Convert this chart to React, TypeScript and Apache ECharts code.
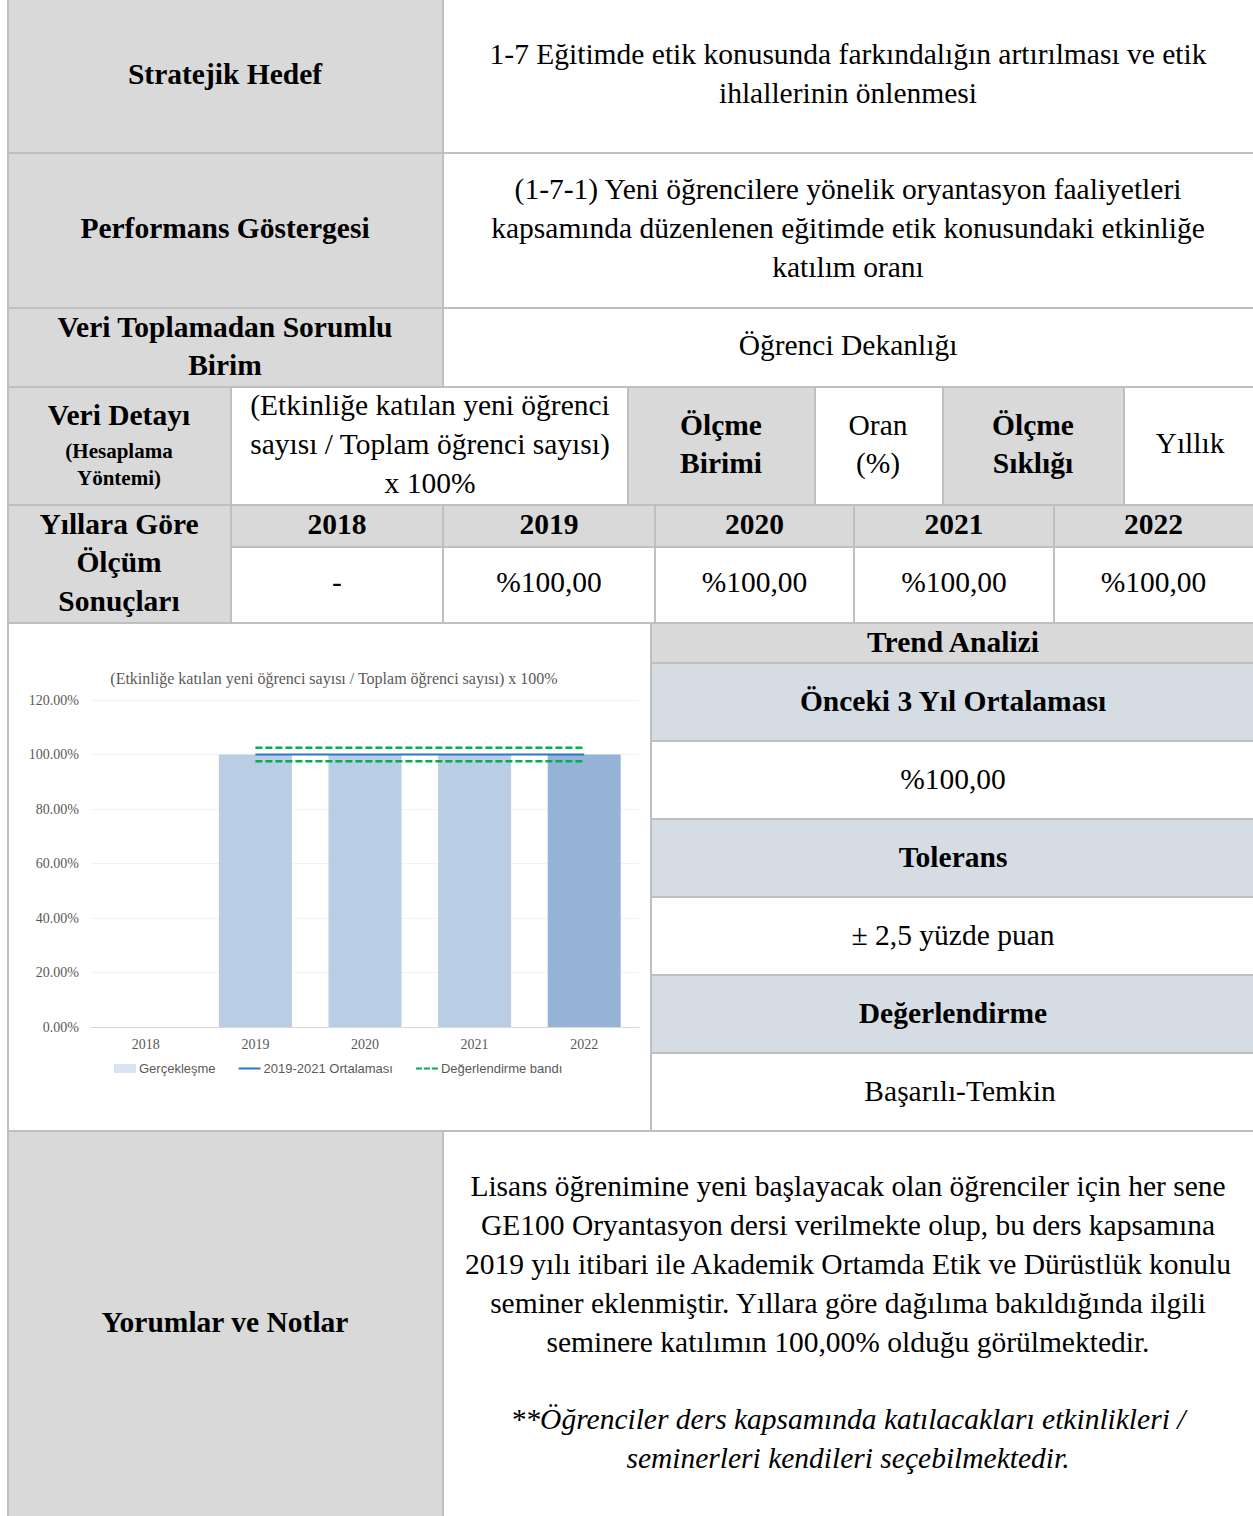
import React, { useEffect, useRef } from "react";
import * as echarts from "echarts";

const categories = ["2018", "2019", "2020", "2021", "2022"];
const actual: (number | null)[] = [null, 100, 100, 100, 100];
const average: (number | null)[] = [null, 100, 100, 100, 100];
const upperBand: (number | null)[] = [null, 102.5, 102.5, 102.5, 102.5];
const lowerBand: (number | null)[] = [null, 97.5, 97.5, 97.5, 97.5];
const yearResults = ["-", "%100,00", "%100,00", "%100,00", "%100,00"];

const SERIF = "'Liberation Serif', 'Times New Roman', serif";
const SANS = "'Liberation Sans', Arial, sans-serif";
const BORDER = "#bfbfbf";
const GRAY = "#d9d9d9";
const BLUEGRAY = "#d6dce4";
const FS = 29.5;

function cell(x1: number, y1: number, x2: number, y2: number, fill: string) {
  return {
    type: "rect",
    z: -5,
    shape: { x: x1, y: y1, width: x2 - x1, height: y2 - y1 },
    style: { fill, stroke: BORDER, lineWidth: 2 },
    silent: true,
  };
}

function txt(
  x: number,
  y: number,
  text: string,
  size = FS,
  bold = false,
  lh = 39,
  italic = false
) {
  return {
    type: "text",
    z: 10,
    silent: true,
    style: {
      text,
      x,
      y,
      align: "center",
      verticalAlign: "middle",
      fontSize: size,
      fontFamily: SERIF,
      fontWeight: bold ? "bold" : "normal",
      fontStyle: italic ? "italic" : "normal",
      lineHeight: lh,
      fill: "#000",
    },
  };
}

export default function App() {
  const ref = useRef<HTMLDivElement>(null);
  useEffect(() => {
    if (!ref.current) return;
    const chart = echarts.init(ref.current, null, { renderer: "svg" });

    const W = 1253;
    const yearCols = [231, 443, 655, 854, 1054, 1253];
    const graphics: any[] = [];
    // Row 1
    graphics.push(cell(8, -2, 443, 153, GRAY), cell(443, -2, W + 2, 153, "#fff"));
    graphics.push(txt(225, 74, "Stratejik Hedef", FS, true));
    graphics.push(
      txt(848, 73, "1-7 Eğitimde etik konusunda farkındalığın artırılması ve etik\nihlallerinin önlenmesi")
    );
    // Row 2
    graphics.push(cell(8, 153, 443, 308, GRAY), cell(443, 153, W + 2, 308, "#fff"));
    graphics.push(txt(225, 228, "Performans Göstergesi", FS, true));
    graphics.push(
      txt(
        848,
        228,
        "(1-7-1) Yeni öğrencilere yönelik oryantasyon faaliyetleri\nkapsamında düzenlenen eğitimde etik konusundaki etkinliğe\nkatılım oranı"
      )
    );
    // Row 3
    graphics.push(cell(8, 308, 443, 387, GRAY), cell(443, 308, W + 2, 387, "#fff"));
    graphics.push(txt(225, 346, "Veri Toplamadan Sorumlu\nBirim", FS, true, 38));
    graphics.push(txt(848, 345, "Öğrenci Dekanlığı"));
    // Row 4
    graphics.push(
      cell(8, 387, 231, 505, GRAY),
      cell(231, 387, 628, 505, "#fff"),
      cell(628, 387, 815, 505, GRAY),
      cell(815, 387, 943, 505, "#fff"),
      cell(943, 387, 1124, 505, GRAY),
      cell(1124, 387, W + 2, 505, "#fff")
    );
    graphics.push(txt(119, 415, "Veri Detayı", FS, true));
    graphics.push(txt(119, 464, "(Hesaplama\nYöntemi)", 21, true, 27));
    graphics.push(
      txt(430, 444, "(Etkinliğe katılan yeni öğrenci\nsayısı / Toplam öğrenci sayısı)\nx 100%")
    );
    graphics.push(txt(721, 444, "Ölçme\nBirimi", FS, true, 38));
    graphics.push(txt(878, 444, "Oran\n(%)", FS, false, 38));
    graphics.push(txt(1033, 444, "Ölçme\nSıklığı", FS, true, 38));
    graphics.push(txt(1190, 443, "Yıllık"));
    // Row 5
    graphics.push(cell(8, 505, 231, 623, GRAY));
    graphics.push(txt(119, 562, "Yıllara Göre\nÖlçüm\nSonuçları", FS, true, 38.5));
    for (let i = 0; i < 5; i++) {
      const x1 = yearCols[i];
      const x2 = i === 4 ? W + 2 : yearCols[i + 1];
      graphics.push(cell(x1, 505, x2, 547, GRAY), cell(x1, 547, x2, 623, "#fff"));
      graphics.push(txt((x1 + Math.min(x2, W)) / 2, 524, categories[i], FS, true));
      graphics.push(txt((x1 + Math.min(x2, W)) / 2, 582, yearResults[i]));
    }
    // Row 6
    graphics.push({
      type: "rect",
      z: -5,
      silent: true,
      shape: { x: 8, y: 623, width: 643, height: 508 },
      style: { fill: "transparent", stroke: BORDER, lineWidth: 2 },
    });
    const rc = [
      [623, 663, GRAY, "Trend Analizi", true],
      [663, 741, BLUEGRAY, "Önceki 3 Yıl Ortalaması", true],
      [741, 819, "#fff", "%100,00", false],
      [819, 897, BLUEGRAY, "Tolerans", true],
      [897, 975, "#fff", "± 2,5 yüzde puan", false],
      [975, 1053, BLUEGRAY, "Değerlendirme", true],
      [1053, 1131, "#fff", "Başarılı-Temkin", false],
    ] as any[];
    rc.forEach((r, i) => {
      graphics.push(cell(651, r[0], W + 2, r[1], r[2]));
      const cx = i === 6 ? 960 : 953;
      graphics.push(txt(cx, (r[0] + r[1]) / 2 - 1.5, r[3], FS, r[4]));
    });
    // Row 7
    graphics.push(cell(8, 1131, 443, 1520, GRAY), cell(443, 1131, W + 2, 1520, "#fff"));
    graphics.push(txt(225, 1322, "Yorumlar ve Notlar", FS, true));
    graphics.push(
      txt(
        848,
        1264,
        "Lisans öğrenimine yeni başlayacak olan öğrenciler için her sene\nGE100 Oryantasyon dersi verilmekte olup, bu ders kapsamına\n2019 yılı itibari ile Akademik Ortamda Etik ve Dürüstlük konulu\nseminer eklenmiştir. Yıllara göre dağılıma bakıldığında ilgili\nseminere katılımın 100,00% olduğu görülmektedir."
      )
    );
    graphics.push(
      txt(
        848,
        1438.5,
        "**Öğrenciler ders kapsamında katılacakları etkinlikleri /\nseminerleri kendileri seçebilmektedir.",
        FS,
        false,
        39,
        true
      )
    );
    // Chart title
    graphics.push({
      type: "text",
      z: 10,
      silent: true,
      style: {
        text: "(Etkinliğe katılan yeni öğrenci sayısı / Toplam öğrenci sayısı) x 100%",
        x: 334,
        y: 678,
        align: "center",
        verticalAlign: "middle",
        fontSize: 16,
        fontFamily: SERIF,
        fill: "#595959",
      },
    });

    const lineIcon = "path://M0,0L0.01,0Z M0,3.6H22V5.4H0Z M0,9L0.01,9Z";
    const dashIcon =
      "path://M0,0L0.01,0Z M0,3.5H6V5.5H0Z M8,3.5H14V5.5H8Z M16,3.5H22V5.5H16Z M0,9L0.01,9Z";

    const option: any = {
      animation: false,
      backgroundColor: "#fff",
      graphic: graphics,
      grid: { left: 91, right: W - 639, top: 700, bottom: 1516 - 1027, containLabel: false },
      xAxis: {
        type: "category",
        data: categories,
        axisTick: { show: false },
        axisLine: { lineStyle: { color: "#d9d9d9", width: 1 } },
        axisLabel: { fontFamily: SERIF, fontSize: 14, color: "#595959", margin: 10 },
      },
      yAxis: {
        type: "value",
        min: 0,
        max: 120,
        interval: 20,
        axisLine: { show: false },
        axisTick: { show: false },
        splitLine: { lineStyle: { color: "#eef3f9", width: 1 } },
        axisLabel: {
          fontFamily: SERIF,
          fontSize: 14,
          color: "#595959",
          margin: 12,
          formatter: (v: number) => v.toFixed(2) + "%",
        },
      },
      legend: {
        left: 109,
        top: 1057,
        itemGap: 23,
        itemWidth: 22,
        itemHeight: 9,
        textStyle: { fontFamily: SANS, fontSize: 13, color: "#595959", padding: [0, 0, 0, -2] },
        data: [
          { name: "Gerçekleşme", icon: "rect", itemStyle: { color: "#dae3f3", borderWidth: 0 } },
          { name: "2019-2021 Ortalaması", icon: lineIcon, itemStyle: { color: "#2f75c7", borderWidth: 0 } },
          { name: "Değerlendirme bandı", icon: dashIcon, itemStyle: { color: "#00b050", borderWidth: 0 } },
        ],
      },
      series: [
        {
          name: "Gerçekleşme",
          type: "bar",
          barWidth: 73,
          itemStyle: { color: "#b9cde5" },
          data: actual.map((v, i) => ({
            value: v,
            itemStyle: { color: i === actual.length - 1 ? "#95b3d7" : "#b9cde5" },
          })),
        },
        {
          name: "2019-2021 Ortalaması",
          type: "line",
          data: average,
          symbol: "none",
          itemStyle: { color: "#2f75c7" },
          lineStyle: { color: "#2f75c7", width: 2 },
          z: 5,
        },
        {
          name: "Değerlendirme bandı",
          type: "line",
          data: upperBand,
          symbol: "none",
          itemStyle: { color: "#00b050" },
          lineStyle: { color: "#00b050", width: 2.5, type: [7, 3] },
          z: 5,
        },
        {
          name: "Değerlendirme bandı",
          type: "line",
          data: lowerBand,
          symbol: "none",
          itemStyle: { color: "#00b050" },
          lineStyle: { color: "#00b050", width: 2.5, type: [7, 3] },
          z: 5,
        },
      ],
    };
    chart.setOption(option);
    return () => chart.dispose();
  }, []);
  return (
    <div
      ref={ref}
      style={{ position: "absolute", left: 0, top: 0, width: 1253, height: 1516 }}
    />
  );
}
